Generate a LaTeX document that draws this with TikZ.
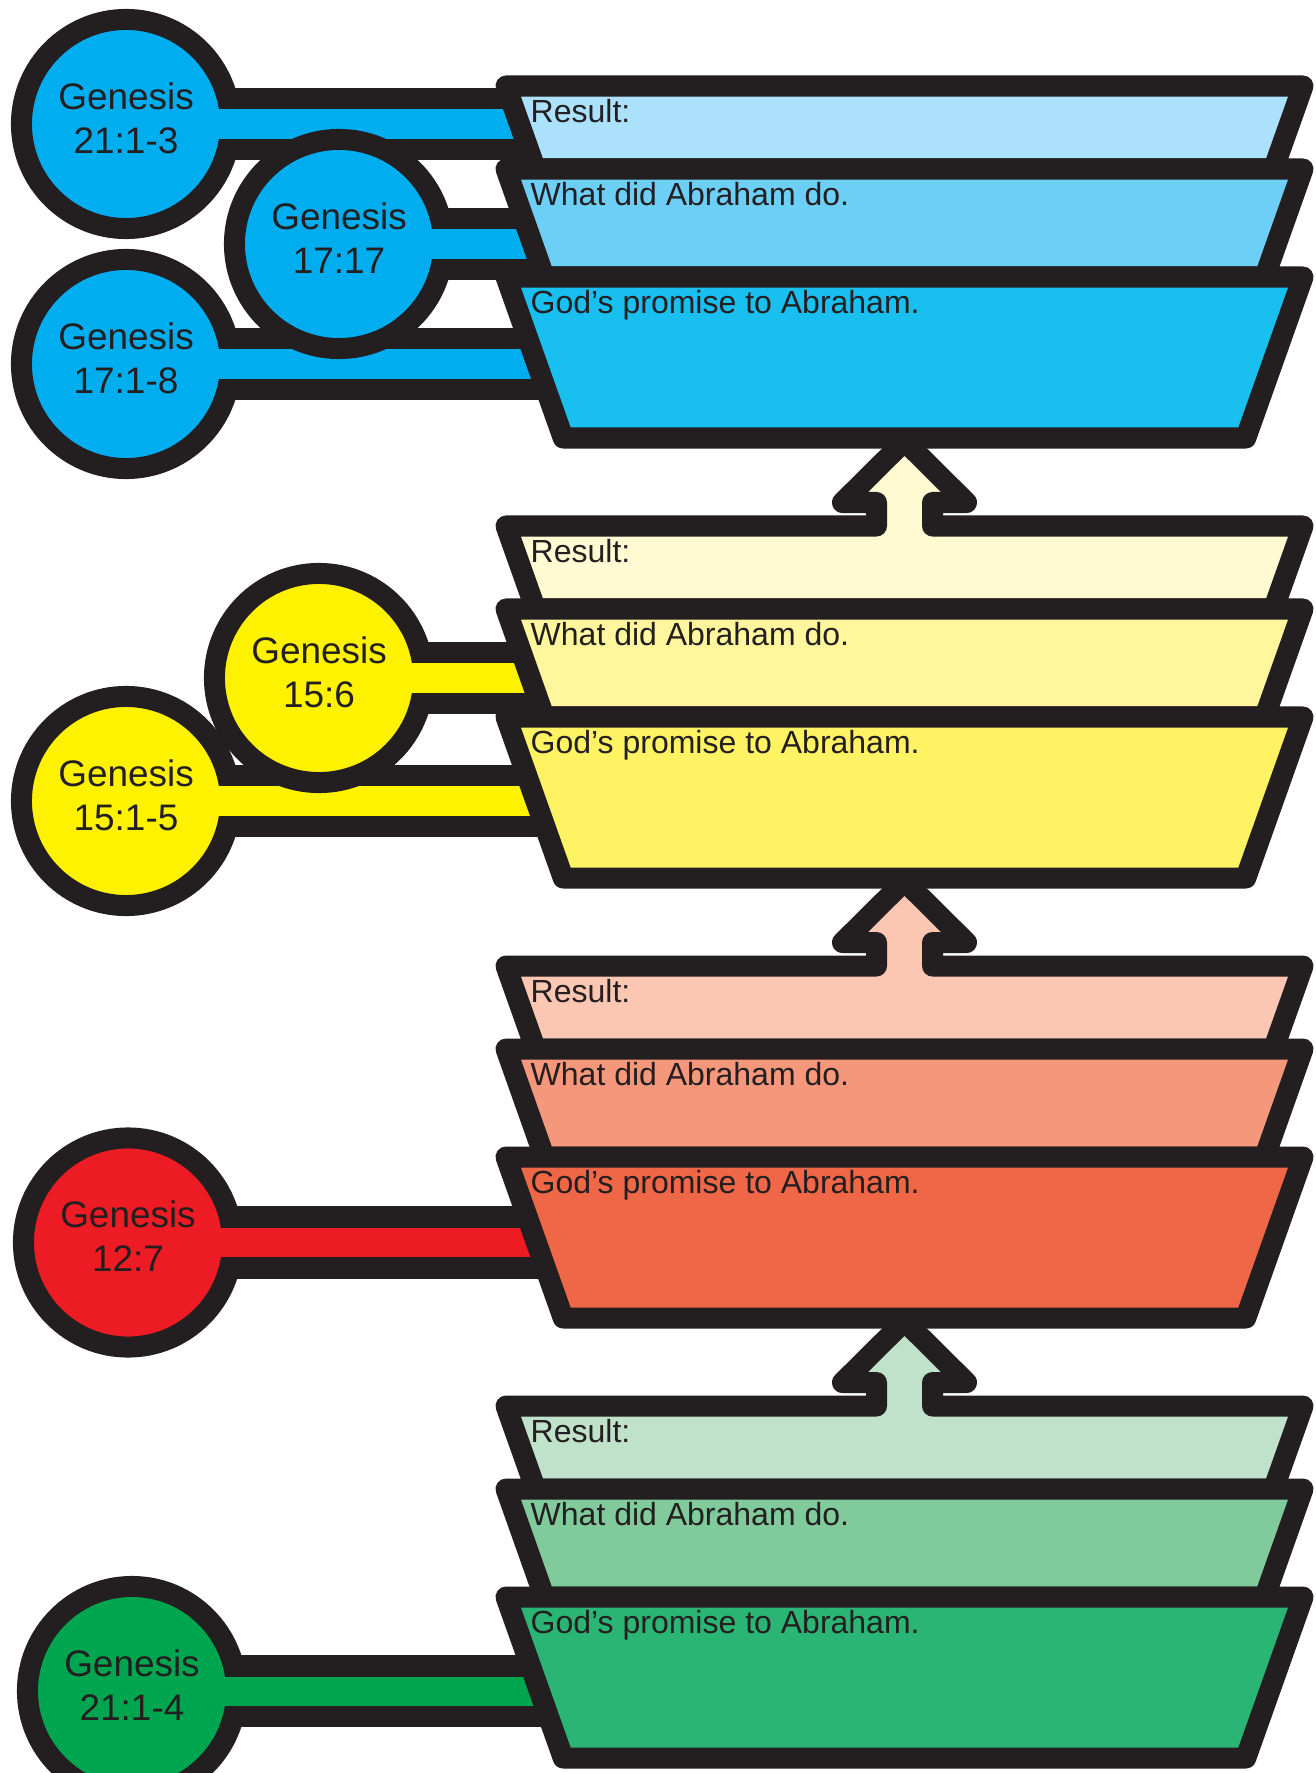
\documentclass[tikz,border=0pt]{standalone}
\usepackage{fontspec}
\setmainfont{Liberation Sans}

\definecolor{ink}{HTML}{231F20}
\definecolor{blueR}{HTML}{ABE1FA}
\definecolor{blueW}{HTML}{6DCFF6}
\definecolor{blueP}{HTML}{18BFEF}
\definecolor{blueC}{HTML}{00AEEF}
\definecolor{yelR}{HTML}{FFFAD2}
\definecolor{yelW}{HTML}{FFF69D}
\definecolor{yelP}{HTML}{FFF263}
\definecolor{yelC}{HTML}{FFF200}
\definecolor{redR}{HTML}{FBC7B2}
\definecolor{redW}{HTML}{F5977A}
\definecolor{redP}{HTML}{F06748}
\definecolor{redC}{HTML}{ED1C24}
\definecolor{grnR}{HTML}{C0E2CB}
\definecolor{grnW}{HTML}{80CA9B}
\definecolor{grnP}{HTML}{2BB574}
\definecolor{grnC}{HTML}{00A54F}

\tikzset{
  verse/.style={circle, draw=ink, line width=0.21cm, minimum size=2.09cm, inner sep=0pt,
    align=center, text=ink, text depth=0.12cm, font=\fontsize{10.5pt}{12.5pt}\selectfont},
  band/.style={draw=ink, line width=0.21cm, line join=round},
  note/.style={anchor=base west, inner sep=0pt, text=ink, font=\fontsize{9.1pt}{11pt}\selectfont},
  barout/.style={draw=ink, line width=0.72cm},
  barin/.style={line width=0.29cm},
}

\begin{document}
\begin{tikzpicture}[x=0.01cm, y=-0.01cm]
  \useasboundingbox (0,0) rectangle (1316,1773);

  \begin{scope}[shift={(0,86)}]
    \coordinate (c1) at (126,38);
    \coordinate (c2) at (339,158);
    \coordinate (c3) at (126,278);
    \coordinate (t1) at (580,38);
    \coordinate (t2) at (580,158);
    \coordinate (t3) at (580,278);

    \draw[barout] (c1) -- (t1);
    \draw[barout] (c3) -- (t3);
    \node[verse, fill=blueC] (g1) at (c1) {Genesis\\21:1-3};
    \node[verse, fill=blueC] (g3) at (c3) {Genesis\\17:1-8};
    \draw[barin, blueC] ([xshift=0.8cm]g1.center) -- (t1);
    \draw[barin, blueC] ([xshift=0.8cm]g3.center) -- (t3);
    \draw[barout] (c2) -- (t2);
    \node[verse, fill=blueC] (g2) at (c2) {Genesis\\17:17};
    \draw[barin, blueC] ([xshift=0.8cm]g2.center) -- (t2);

    \draw[band, fill=blueR] (506,0) -- (1303,0) -- (1273.5,83) -- (535.5,83) -- cycle;
    \draw[band, fill=blueW] (506,83) -- (1303,83) -- (1264.7,191) -- (544.3,191) -- cycle;
    \draw[band, fill=blueP] (506,191) -- (1303,191) -- (1245.8,352) -- (563.2,352) -- cycle;
    \node[note] (r1) at (530,36.5) {Result:};
    \node[note] (w1) at (530,119.5) {What did Abraham do.};
    \node[note] (p1) at (530,227.5) {God’s promise to Abraham.};
  \end{scope}

  \begin{scope}[shift={(0,526)}]
    \coordinate (c4) at (319,152);
    \coordinate (c5) at (126,275);
    \coordinate (t4) at (580,152);
    \coordinate (t5) at (580,275);

    \draw[barout] (c5) -- (t5);
    \node[verse, fill=yelC] (g5) at (c5) {Genesis\\15:1-5};
    \draw[barin, yelC] ([xshift=0.8cm]g5.center) -- (t5);
    \draw[barout] (c4) -- (t4);
    \node[verse, fill=yelC] (g4) at (c4) {Genesis\\15:6};
    \draw[barin, yelC] ([xshift=0.8cm]g4.center) -- (t4);

    \draw[band, fill=yelR] (506,0) -- (876.5,0) -- (876.5,-23.5) -- (842.5,-23.5) -- (904.5,-85)
      -- (966.5,-23.5) -- (932.5,-23.5) -- (932.5,0) -- (1303,0) -- (1273.5,83) -- (535.5,83) -- cycle;
    \draw[band, fill=yelW] (506,83) -- (1303,83) -- (1264.7,191) -- (544.3,191) -- cycle;
    \draw[band, fill=yelP] (506,191) -- (1303,191) -- (1245.8,352) -- (563.2,352) -- cycle;
    \node[note] (r2) at (530,36.5) {Result:};
    \node[note] (w2) at (530,119.5) {What did Abraham do.};
    \node[note] (p2) at (530,227.5) {God’s promise to Abraham.};
  \end{scope}

  \begin{scope}[shift={(0,966)}]
    \coordinate (c6) at (128,276.5);
    \coordinate (t6) at (580,276.5);

    \draw[barout] (c6) -- (t6);
    \node[verse, fill=redC] (g6) at (c6) {Genesis\\12:7};
    \draw[barin, redC] ([xshift=0.8cm]g6.center) -- (t6);

    \draw[band, fill=redR] (506,0) -- (876.5,0) -- (876.5,-23.5) -- (842.5,-23.5) -- (904.5,-85)
      -- (966.5,-23.5) -- (932.5,-23.5) -- (932.5,0) -- (1303,0) -- (1273.5,83) -- (535.5,83) -- cycle;
    \draw[band, fill=redW] (506,83) -- (1303,83) -- (1264.7,191) -- (544.3,191) -- cycle;
    \draw[band, fill=redP] (506,191) -- (1303,191) -- (1245.8,352) -- (563.2,352) -- cycle;
    \node[note] (r3) at (530,36.5) {Result:};
    \node[note] (w3) at (530,119.5) {What did Abraham do.};
    \node[note] (p3) at (530,227.5) {God’s promise to Abraham.};
  \end{scope}

  \begin{scope}[shift={(0,1406)}]
    \coordinate (c7) at (132,285);
    \coordinate (t7) at (580,285);

    \draw[barout] (c7) -- (t7);
    \node[verse, fill=grnC] (g7) at (c7) {Genesis\\21:1-4};
    \draw[barin, grnC] ([xshift=0.8cm]g7.center) -- (t7);

    \draw[band, fill=grnR] (506,0) -- (876.5,0) -- (876.5,-23.5) -- (842.5,-23.5) -- (904.5,-85)
      -- (966.5,-23.5) -- (932.5,-23.5) -- (932.5,0) -- (1303,0) -- (1273.5,83) -- (535.5,83) -- cycle;
    \draw[band, fill=grnW] (506,83) -- (1303,83) -- (1264.7,191) -- (544.3,191) -- cycle;
    \draw[band, fill=grnP] (506,191) -- (1303,191) -- (1245.8,352) -- (563.2,352) -- cycle;
    \node[note] (r4) at (530,36.5) {Result:};
    \node[note] (w4) at (530,119.5) {What did Abraham do.};
    \node[note] (p4) at (530,227.5) {God’s promise to Abraham.};
  \end{scope}
\end{tikzpicture}
\end{document}
